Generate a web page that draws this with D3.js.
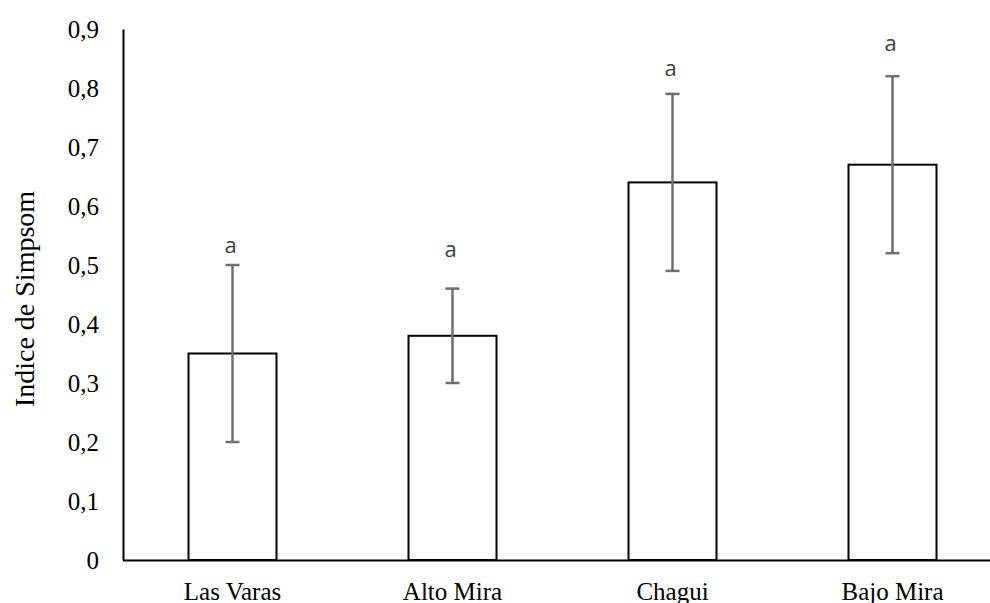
<!DOCTYPE html>
<html>
<head>
<meta charset="utf-8">
<script src="https://cdn.jsdelivr.net/npm/d3@7"></script>
<style>
html,body{margin:0;padding:0;background:#fff;overflow:hidden;}
svg{display:block;}
</style>
</head>
<body>
<svg id="chart" width="990" height="603"></svg>
<script>
const categories = ["Las Varas", "Alto Mira", "Chagui", "Bajo Mira"];
const values = [0.35, 0.38, 0.64, 0.67];
const errors = [0.15, 0.08, 0.15, 0.15];
const letters = ["a", "a", "a", "a"];
const letterPos = [0.534, 0.527, 0.834, 0.876];
const yTicks = [0, 0.1, 0.2, 0.3, 0.4, 0.5, 0.6, 0.7, 0.8, 0.9];
const yTitle = "Indice de Simpsom";

const svg = d3.select("#chart");
const x = d3.scaleBand().domain(categories).range([122.5, 1002.5]).paddingInner(0.6).paddingOuter(0.3);
const y = d3.scaleLinear().domain([0, 0.9]).range([560, 29]);

// bars
svg.append("g").selectAll("rect").data(values).join("rect")
  .attr("x", (d,i) => x(categories[i]))
  .attr("y", d => y(d))
  .attr("width", x.bandwidth())
  .attr("height", d => y(0) - y(d))
  .attr("fill", "#fff").attr("stroke", "#000").attr("stroke-width", 2);

// axes
const yAxis = d3.axisLeft(y).tickValues(yTicks).tickSize(0).tickPadding(24)
  .tickFormat(d => d === 0 ? "0" : d3.format(".1f")(d).replace(".", ","));
const gy = svg.append("g").attr("transform", "translate(123,0)").call(yAxis);
gy.select(".domain").attr("stroke", "#000").attr("stroke-width", 2);
gy.selectAll("text").attr("font-family", "'Liberation Serif', 'Times New Roman', serif").attr("font-size", 25).attr("fill", "#000");

const xAxis = d3.axisBottom(x).tickSize(0).tickPadding(22);
const gx = svg.append("g").attr("transform", "translate(0,560)").call(xAxis);
gx.select(".domain").attr("stroke", "#000").attr("stroke-width", 2);
gx.selectAll("text").attr("font-family", "'Liberation Serif', 'Times New Roman', serif").attr("font-size", 25).attr("fill", "#000");

// error bars
const eb = svg.append("g").attr("stroke", "#6f6f6f").attr("stroke-width", 2.5);
values.forEach((v, i) => {
  const cx = x(categories[i]) + x.bandwidth() / 2;
  eb.append("line").attr("x1", cx).attr("x2", cx).attr("y1", y(v - errors[i])).attr("y2", y(v + errors[i]));
  eb.append("line").attr("x1", cx - 7).attr("x2", cx + 7).attr("y1", y(v - errors[i])).attr("y2", y(v - errors[i]));
  eb.append("line").attr("x1", cx - 7).attr("x2", cx + 7).attr("y1", y(v + errors[i])).attr("y2", y(v + errors[i]));
});

// letters
svg.append("g").selectAll("text").data(letters).join("text")
  .attr("x", (d,i) => x(categories[i]) + x.bandwidth() / 2 - 2)
  .attr("y", (d,i) => y(letterPos[i]))
  .attr("dy", "0.35em")
  .attr("text-anchor", "middle")
  .attr("font-family", "'Open Sans', sans-serif")
  .attr("font-size", 22)
  .attr("fill", "#404040")
  .text(d => d);

// y title
svg.append("text")
  .attr("transform", "translate(34,299) rotate(-90)")
  .attr("text-anchor", "middle")
  .attr("font-family", "'Liberation Serif', 'Times New Roman', serif")
  .attr("font-size", 28)
  .attr("fill", "#000")
  .text(yTitle);
</script>
</body>
</html>
